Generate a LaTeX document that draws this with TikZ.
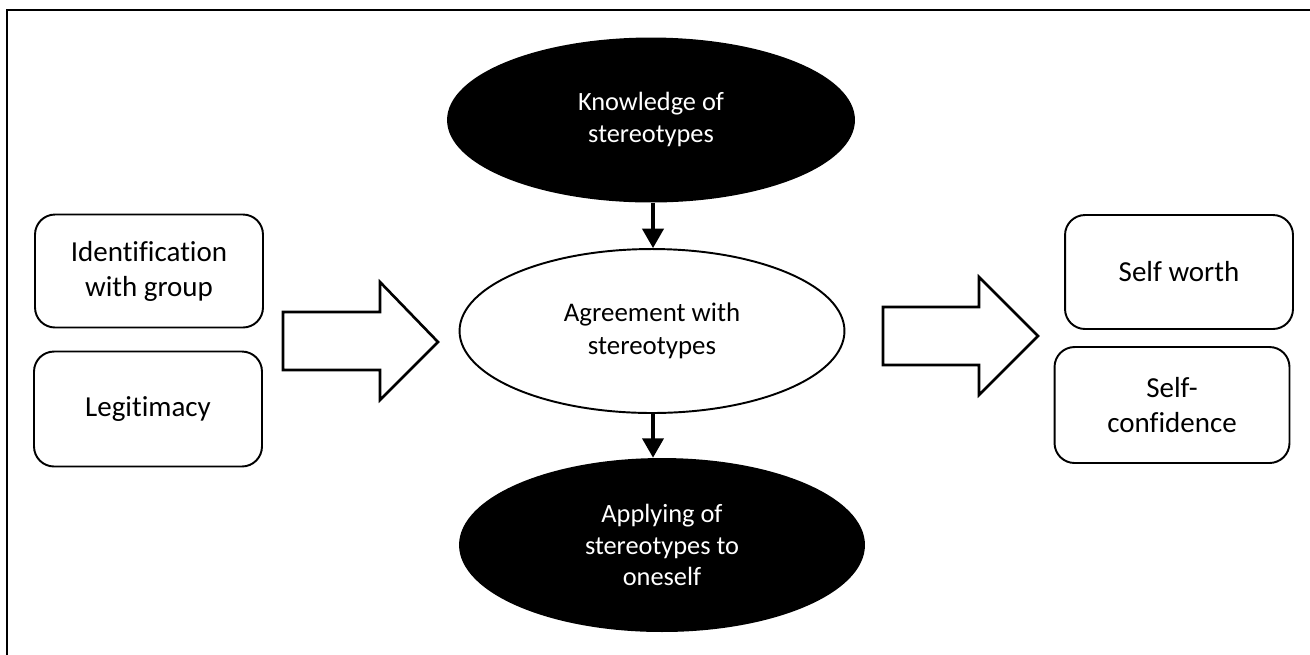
\documentclass[tikz,border=0pt]{standalone}
\usepackage{fontspec}
\setmainfont{Carlito}[Ligatures=CommonOff]
\usetikzlibrary{arrows.meta,shapes.geometric}

\begin{document}
\begin{tikzpicture}[x=0.02cm, y=-0.02cm,
	dark/.style={shape=ellipse, fill=black, text=white, inner sep=0pt, align=center, font=\fontsize{15}{18}\selectfont},
	light/.style={shape=ellipse, draw=black, line width=1.1pt, inner sep=0pt, align=center, font=\fontsize{15.3}{19}\selectfont},
	card/.style={shape=rectangle, rounded corners=0.4cm, draw=black, line width=1.1pt, inner sep=0pt, align=center, font=\fontsize{16.5}{20}\selectfont},
	push/.style={-{Triangle[width=12pt,length=11pt]}, line width=2pt},
	fat/.style={draw=black, fill=white, line width=1.5pt, line join=miter}]

	\path[use as bounding box] (0,0) rectangle (1310,654);
	\clip (0,0) rectangle (1310,654);
	\draw[line width=1.6pt] (7,10) rectangle (1330,680);

	\node[dark, minimum width=8.16cm, minimum height=3.3cm] (know) at (651,120) {\raisebox{-3pt}{\begin{tabular}{@{}c@{}}Knowledge of\\stereotypes\end{tabular}}};
	\node[light, minimum width=7.7cm, minimum height=3.28cm] (agree) at (652,331) {Agreement with\\stereotypes};
	\node[dark, minimum width=8.12cm, minimum height=3.48cm] (apply) at (662,545) {Applying of\\stereotypes to\\oneself};

	\node[card, minimum width=4.56cm, minimum height=2.26cm] (ident) at (149,271) {Identification\\with group};
	\node[card, minimum width=4.56cm, minimum height=2.3cm] (legit) at (148,409) {Legitimacy};
	\node[card, minimum width=4.56cm, minimum height=2.28cm] (worth) at (1179,272) {Self worth};
	\node[card, minimum width=4.7cm, minimum height=2.32cm] (conf) at (1172,405) {Self-\\confidence};

	\path[push] (know.south -| 653,0) edge (agree.north -| 653,0);
	\path[push] (agree.south -| 653,0) edge (apply.north -| 653,0);

	% block arrows
	\draw[fat] (283,312) -- (380,312) -- (380,282) -- (438,342) -- (380,400) -- (380,370) -- (283,370) -- cycle;
	\draw[fat] (883,307) -- (979,307) -- (979,277) -- (1038,336) -- (979,395) -- (979,365) -- (883,365) -- cycle;

\end{tikzpicture}
\end{document}
